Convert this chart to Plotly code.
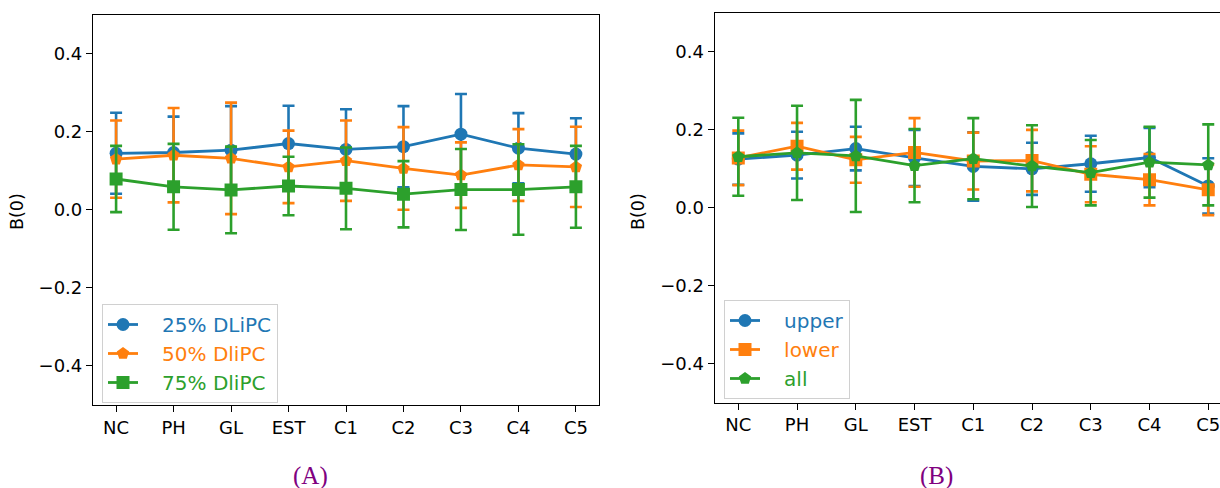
import plotly.graph_objects as go

# ---------------- data ----------------
categories = ["NC", "PH", "GL", "EST", "C1", "C2", "C3", "C4", "C5"]

# Panel A
a_25 = [0.145, 0.147, 0.153, 0.170, 0.155, 0.162, 0.194, 0.158, 0.143]
a_25_err = [0.104, 0.092, 0.113, 0.097, 0.103, 0.104, 0.103, 0.090, 0.092]
a_50 = [0.130, 0.140, 0.132, 0.110, 0.126, 0.106, 0.089, 0.115, 0.110]
a_50_err = [0.099, 0.121, 0.143, 0.093, 0.103, 0.106, 0.084, 0.092, 0.103]
a_75 = [0.079, 0.059, 0.051, 0.061, 0.055, 0.040, 0.052, 0.052, 0.059]
a_75_err = [0.085, 0.110, 0.111, 0.075, 0.105, 0.085, 0.104, 0.116, 0.105]

# Panel B
b_upper = [0.125, 0.135, 0.152, 0.128, 0.106, 0.100, 0.113, 0.129, 0.056]
b_upper_err = [0.066, 0.060, 0.056, 0.072, 0.088, 0.067, 0.072, 0.076, 0.071]
b_lower = [0.128, 0.158, 0.123, 0.142, 0.120, 0.121, 0.086, 0.072, 0.046]
b_lower_err = [0.070, 0.060, 0.059, 0.088, 0.073, 0.079, 0.072, 0.066, 0.065]
b_all = [0.131, 0.141, 0.133, 0.108, 0.126, 0.107, 0.090, 0.117, 0.110]
b_all_err = [0.100, 0.121, 0.144, 0.094, 0.104, 0.105, 0.084, 0.091, 0.104]

a_labels = ["25% DLiPC", "50% DliPC", "75% DliPC"]
b_labels = ["upper", "lower", "all"]
y_ticks = [-0.4, -0.2, 0.0, 0.2, 0.4]
y_ticktext = ["\u22120.4", "\u22120.2", "0.0", "0.2", "0.4"]

BLUE, ORANGE, GREEN = "#1f77b4", "#ff7f0e", "#2ca02c"
FONT = "DejaVu Sans"
FS = 18      # tick / axis label size
LFS = 20     # legend size

# the page's body margin is removed (post_script), so the figure fills the window
W, H = 1220, 488


def px(x):   # window x pixel -> paper x
    return x / W


def py(y):   # window y pixel -> paper y
    return 1 - y / H


fig = go.Figure()
PAD = "\u00a0\u00a0\u00a0"


def add_series(y, err, name, color, symbol, xaxis, yaxis, legend):
    fig.add_trace(go.Scatter(
        x=categories, y=y,
        mode="lines+markers",
        name=f'<span style="color:{color}">{PAD}{name}</span>',
        legendgroup=name,
        legend=legend,
        xaxis=xaxis, yaxis=yaxis,
        line=dict(color=color, width=2.8),
        marker=dict(color=color, symbol=symbol, size=13, line=dict(width=0)),
        error_y=dict(type="data", array=err, visible=True, color=color,
                     thickness=2.6, width=6),
        cliponaxis=True,
    ))


add_series(a_25, a_25_err, a_labels[0], BLUE, "circle", "x", "y", "legend")
add_series(a_50, a_50_err, a_labels[1], ORANGE, "pentagon", "x", "y", "legend")
add_series(a_75, a_75_err, a_labels[2], GREEN, "square", "x", "y", "legend")

add_series(b_upper, b_upper_err, b_labels[0], BLUE, "circle", "x2", "y2", "legend2")
add_series(b_lower, b_lower_err, b_labels[1], ORANGE, "square", "x2", "y2", "legend2")
add_series(b_all, b_all_err, b_labels[2], GREEN, "pentagon", "x2", "y2", "legend2")

axis_common = dict(
    showline=True, linecolor="black", linewidth=1.4, mirror=True,
    ticks="outside", ticklen=6, tickwidth=1.4, tickcolor="black",
    showgrid=False, zeroline=False,
    tickfont=dict(family=FONT, size=FS, color="black"),
)

legend_common = dict(
    xanchor="left", yanchor="top",
    bgcolor="rgba(255,255,255,0.8)", bordercolor="#d0d0d0", borderwidth=1,
    font=dict(family=FONT, size=LFS), traceorder="grouped", tracegroupgap=0,
)

fig.update_layout(
    width=W, height=H, autosize=False,
    margin=dict(l=0, r=0, t=0, b=0),
    paper_bgcolor="white", plot_bgcolor="white",
    font=dict(family=FONT, size=FS, color="black"),
    xaxis=dict(domain=[px(93.1), px(598.9)], range=[-0.4, 8.4],
               type="category", anchor="y", **axis_common),
    yaxis=dict(domain=[py(404.7), py(14.9)], range=[-0.5, 0.5],
               tickvals=y_ticks, ticktext=y_ticktext, anchor="x", **axis_common),
    xaxis2=dict(domain=[px(714.8), 1.0], range=[-0.4, 8.2],
                type="category", anchor="y2", **axis_common),
    yaxis2=dict(domain=[py(402.5), py(13.0)], range=[-0.5, 0.5],
                tickvals=y_ticks, ticktext=y_ticktext, anchor="x2", **axis_common),
    legend=dict(x=px(102), y=py(304), **legend_common),
    legend2=dict(x=px(724), y=py(300), **legend_common),
    showlegend=True,
)

annotations = [
    dict(text="B(0)", x=px(17), y=py(212), xref="paper", yref="paper",
         textangle=-90, showarrow=False, xanchor="center", yanchor="middle",
         font=dict(family=FONT, size=17.5, color="black")),
    dict(text="B(0)", x=px(638), y=py(212), xref="paper", yref="paper",
         textangle=-90, showarrow=False, xanchor="center", yanchor="middle",
         font=dict(family=FONT, size=17.5, color="black")),
    dict(text="(A)", x=px(310), y=py(476), xref="paper", yref="paper",
         showarrow=False, xanchor="center", yanchor="middle",
         font=dict(family="Liberation Serif", size=25, color="#800080")),
    dict(text="(B)", x=px(936), y=py(476), xref="paper", yref="paper",
         showarrow=False, xanchor="center", yanchor="middle",
         font=dict(family="Liberation Serif", size=25, color="#800080")),
]
fig.update_layout(annotations=annotations)

fig.write_html(
    "out.html",
    config={"displayModeBar": False},
    post_script="document.body.style.margin='0';document.body.style.overflow='hidden';",
)
